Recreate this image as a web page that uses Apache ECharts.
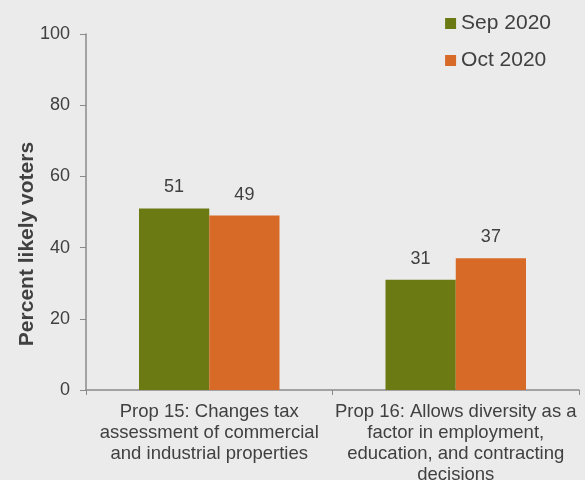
<!DOCTYPE html>
<html><head><meta charset="utf-8">
<script src="https://cdn.jsdelivr.net/npm/echarts@6/dist/echarts.min.js"></script>
<style>html,body{margin:0;padding:0;background:#ebebeb;}#c{width:585px;height:480px;}</style>
</head><body><div id="c"></div>
<script>
const categories = ["Prop 15: Changes tax\nassessment of commercial\nand industrial properties",
  "Prop 16: Allows diversity as a\nfactor in employment,\neducation, and contracting\ndecisions"];
const seriesNames = ["Sep 2020", "Oct 2020"];
const sepValues = [51, 31];
const octValues = [49, 37];
const yTicks = [0, 20, 40, 60, 80, 100];
const yTitle = "Percent likely voters";

const chart = echarts.init(document.getElementById('c'), null, {renderer: 'canvas'});
const txt = '#404040';
const font = 'Arial, "Liberation Sans", sans-serif';
chart.setOption({
  backgroundColor: '#ebebeb',
  animation: false,
  textStyle: {fontFamily: font},
  legend: {
    orient: 'vertical', right: 29, top: 8, itemWidth: 11, itemHeight: 11, itemGap: 16,
    icon: 'rect',
    textStyle: {fontSize: 21, color: txt, fontFamily: font},
    data: seriesNames
  },
  grid: {left: 86, right: 6, top: 34, bottom: 90, containLabel: false, outerBoundsMode: 'none'},
  xAxis: {
    type: 'category', data: categories,
    axisLine: {lineStyle: {color: '#8a8a8a', width: 1.5}},
    axisTick: {show: true, alignWithLabel: false, length: 5, inside: false, lineStyle: {color: '#8a8a8a'}},
    axisLabel: {color: txt, fontSize: 18.5, lineHeight: 21, margin: 11, interval: 0, fontFamily: font}
  },
  yAxis: {
    type: 'value', min: yTicks[0], max: yTicks[yTicks.length - 1], interval: yTicks[1] - yTicks[0],
    axisLine: {show: true, lineStyle: {color: '#8a8a8a', width: 1.5}},
    axisTick: {show: true, length: 6, lineStyle: {color: '#8a8a8a'}},
    splitLine: {show: false},
    axisLabel: {color: txt, fontSize: 18, margin: 16, fontFamily: font}
  },
  graphic: [{
    type: 'text', rotation: Math.PI / 2, x: 27.5, y: 244,
    style: {text: yTitle, fill: txt, font: 'bold 21px ' + font, textAlign: 'center', textVerticalAlign: 'middle'}
  }],
  series: [
    {name: seriesNames[0], type: 'bar', data: sepValues, barGap: '0%', barCategoryGap: '43%',
     itemStyle: {color: '#6b7a13'},
     label: {show: true, position: 'top', distance: 12, color: txt, fontSize: 18, fontFamily: font}},
    {name: seriesNames[1], type: 'bar', data: octValues, barGap: '0%', barCategoryGap: '43%',
     itemStyle: {color: '#d86a28'},
     label: {show: true, position: 'top', distance: 12, color: txt, fontSize: 18, fontFamily: font}}
  ]
});
</script></body></html>
